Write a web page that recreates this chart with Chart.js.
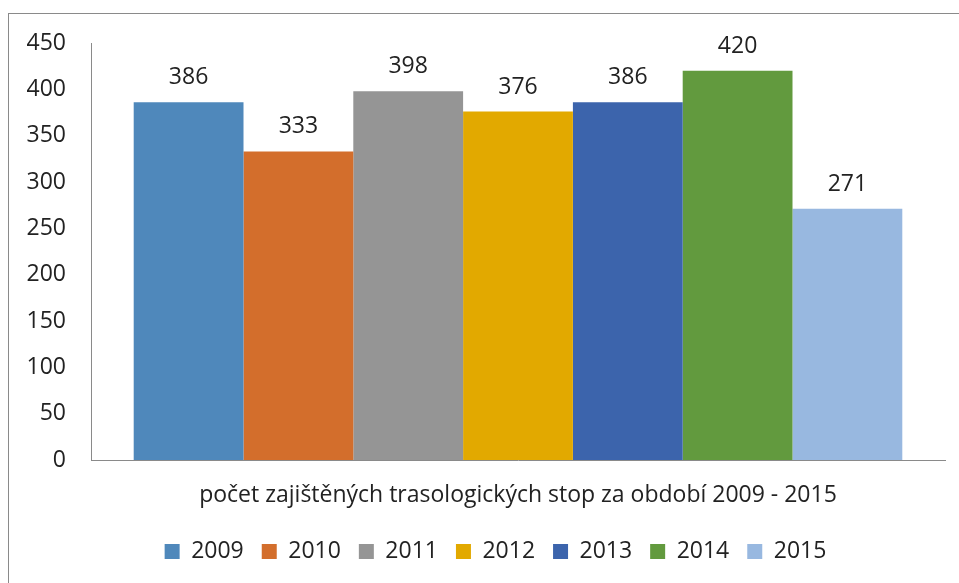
<!DOCTYPE html>
<html>
<head>
<meta charset="utf-8">
<script src="https://cdn.jsdelivr.net/npm/chart.js@4"></script>
<style>
  html, body { margin: 0; padding: 0; background: #fff; overflow: hidden; }
  #frame { position: absolute; left: 8px; top: 13px; width: 980px; height: 600px; border: 1px solid #8a8a8a; }
  #chart { position: absolute; left: 0; top: 0; }
</style>
</head>
<body>
<div id="frame"></div>
<canvas id="chart" width="959" height="583"></canvas>
<script>
// one category, one dataset per year
const categories = ["počet zajištěných trasologických stop za období 2009 - 2015"];
const years = ["2009", "2010", "2011", "2012", "2013", "2014", "2015"];
const values = [386, 333, 398, 376, 386, 420, 271];
const colors = ["#4f88bb", "#d36e2c", "#959595", "#e2a900", "#3c64ac", "#629a3e", "#98b8e0"];
const yTicks = [0, 50, 100, 150, 200, 250, 300, 350, 400, 450];

const fontFamily = "'Open Sans', 'DejaVu Sans', sans-serif";
const textColor = "#222";

// labels above each bar
const valueLabels = {
  id: "valueLabels",
  afterDatasetsDraw(chart) {
    const ctx = chart.ctx;
    ctx.save();
    ctx.font = "23px " + fontFamily;
    ctx.fillStyle = textColor;
    ctx.textAlign = "center";
    ctx.textBaseline = "alphabetic";
    chart.data.datasets.forEach(function (ds, i) {
      const meta = chart.getDatasetMeta(i);
      meta.data.forEach(function (bar, j) {
        ctx.fillText(String(ds.data[j]), bar.x, bar.y - 18);
      });
    });
    ctx.restore();
  },
};

// legend sits a bit right of the canvas centre in the original
const legendShift = {
  id: "legendShift",
  afterLayout(chart) {
    chart.legend.left += 18;
    chart.legend.right += 18;
  },
};

const ctx = document.getElementById("chart");

new Chart(ctx, {
  type: "bar",
  data: {
    labels: categories,
    datasets: years.map(function (year, i) {
      return {
        label: year,
        data: [values[i]],
        backgroundColor: colors[i],
        borderWidth: 0,
        categoryPercentage: 0.9,
        barPercentage: 1.0,
      };
    }),
  },
  options: {
    responsive: false,
    animation: false,
    layout: {
      padding: { left: 10, right: 14, top: 43, bottom: 10 },
    },
    plugins: {
      tooltip: { enabled: false },
      legend: {
        position: "bottom",
        labels: {
          boxWidth: 15,
          boxHeight: 15,
          padding: 18,
          color: textColor,
          font: { size: 23, family: fontFamily },
        },
      },
    },
    scales: {
      x: {
        afterFit: function (scale) {
          scale.height = 62;
        },
        grid: { display: false, drawTicks: false },
        border: { display: true, color: "#8a8a8a", width: 1 },
        ticks: {
          color: textColor,
          padding: 22,
          font: { size: 23, family: fontFamily },
        },
      },
      y: {
        min: 0,
        max: 450,
        afterBuildTicks: function (scale) {
          scale.ticks = yTicks.map(function (v) { return { value: v }; });
        },
        afterFit: function (scale) {
          scale.width = 81;
        },
        grid: { display: false, drawTicks: false },
        border: { display: true, color: "#8a8a8a", width: 1 },
        ticks: {
          color: textColor,
          padding: 25,
          font: { size: 23, family: fontFamily },
        },
      },
    },
  },
  plugins: [valueLabels, legendShift],
});
</script>
</body>
</html>
